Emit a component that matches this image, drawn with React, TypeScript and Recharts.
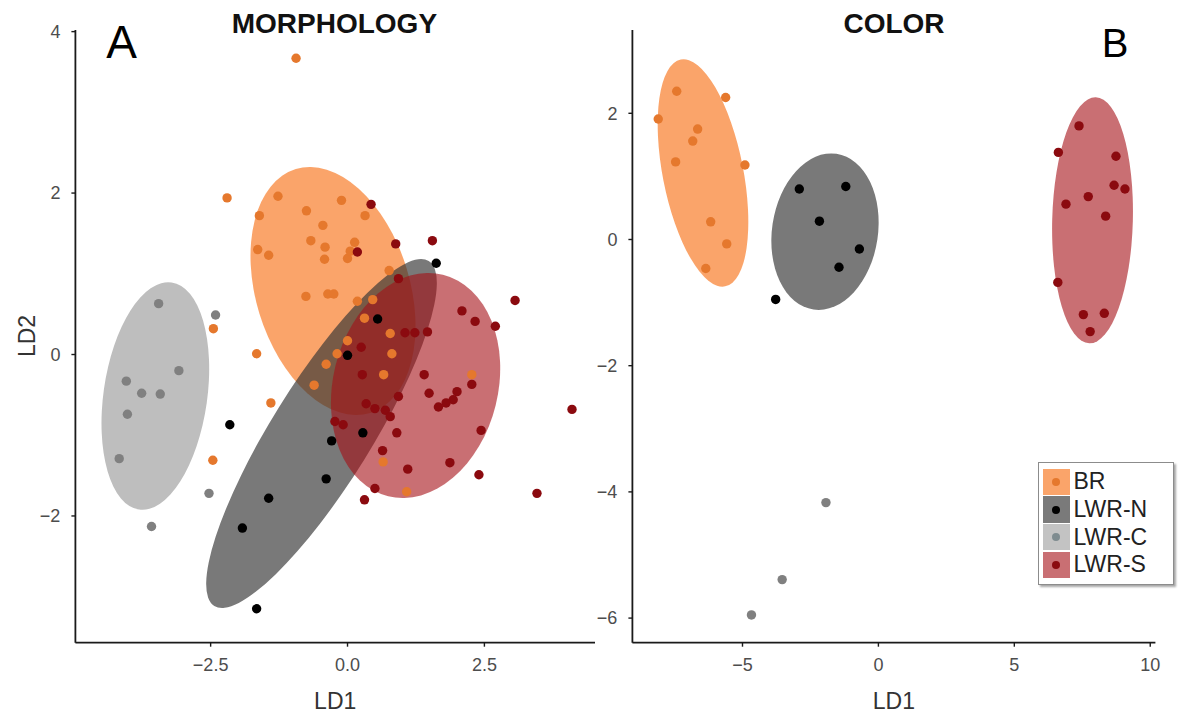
import React from 'react';
import { ScatterChart, Scatter, XAxis, YAxis } from 'recharts';

type Pt = { x: number; y: number };

// ---------- groups & styling ----------
const groups = ['BR', 'LWR-N', 'LWR-C', 'LWR-S'];
const pointColors = ['#e5782d', '#000000', '#808080', '#8b0a0f'];
const ellipseColors = ['#f7731a', '#333333', '#888888', '#a50f15'];
const ellipseOpacity = [0.65, 0.66, 0.55, 0.6];
const legendKeyColors = ['#faa46a', '#7a7a7a', '#c3c3c3', '#c96f73'];
const legendDotColors = ['#e5782d', '#000000', '#7f8c90', '#8b0a0f'];

// ---------- panel A: MORPHOLOGY ----------
const morphXDomain = [-4.97, 4.52];
const morphYDomain = [-3.57, 4.02];
const morphXTicks = [-2.5, 0, 2.5];
const morphYTicks = [-2, 0, 2, 4];

const morphBR: Pt[] = [
  { x: -0.94, y: 3.67 }, { x: -2.2, y: 1.94 }, { x: -1.27, y: 1.96 }, { x: -0.11, y: 1.91 },
  { x: -1.61, y: 1.72 }, { x: -0.75, y: 1.78 }, { x: 0.32, y: 1.72 }, { x: -0.45, y: 1.6 },
  { x: -0.67, y: 1.41 }, { x: -0.41, y: 1.33 }, { x: 0.13, y: 1.39 }, { x: -1.64, y: 1.3 },
  { x: -1.44, y: 1.23 }, { x: -0.42, y: 1.18 }, { x: 0.0, y: 1.19 }, { x: 0.05, y: 1.28 },
  { x: -0.76, y: 0.72 }, { x: -0.36, y: 0.75 }, { x: -0.25, y: 0.75 }, { x: -1.66, y: 0.01 },
  { x: -1.4, y: -0.6 }, { x: 0.76, y: 1.04 }, { x: 0.18, y: 0.66 }, { x: 0.46, y: 0.68 },
  { x: 0.31, y: 0.45 }, { x: 0.78, y: 0.26 }, { x: 0.0, y: 0.17 }, { x: -0.19, y: 0.01 },
  { x: 0.81, y: 0.01 }, { x: -0.39, y: -0.12 }, { x: 0.66, y: -0.25 }, { x: -0.61, y: -0.38 },
  { x: 2.27, y: -0.25 }, { x: 1.08, y: -1.7 }, { x: 0.65, y: -1.33 }, { x: -2.45, y: 0.32 },
  { x: -2.46, y: -1.31 },
];
const morphLWRN: Pt[] = [
  { x: 0.55, y: 0.44 }, { x: 1.62, y: 1.13 }, { x: 0.0, y: -0.01 }, { x: -2.15, y: -0.87 },
  { x: -1.44, y: -1.78 }, { x: -1.92, y: -2.15 }, { x: -0.29, y: -1.07 }, { x: -0.39, y: -1.54 },
  { x: 0.28, y: -0.97 }, { x: -1.66, y: -3.15 },
];
const morphLWRC: Pt[] = [
  { x: -3.45, y: 0.63 }, { x: -2.41, y: 0.49 }, { x: -3.08, y: -0.2 }, { x: -4.04, y: -0.33 },
  { x: -3.76, y: -0.48 }, { x: -3.42, y: -0.49 }, { x: -4.02, y: -0.74 }, { x: -4.17, y: -1.29 },
  { x: -2.53, y: -1.72 }, { x: -3.58, y: -2.13 },
];
const morphLWRS: Pt[] = [
  { x: 0.43, y: 1.86 }, { x: 0.88, y: 1.37 }, { x: 1.55, y: 1.41 }, { x: 0.18, y: 1.27 },
  { x: 0.93, y: 0.94 }, { x: 2.09, y: 0.54 }, { x: 2.33, y: 0.41 }, { x: 2.7, y: 0.35 },
  { x: 3.06, y: 0.67 }, { x: 1.05, y: 0.27 }, { x: 1.23, y: 0.27 }, { x: 1.46, y: 0.28 },
  { x: 0.25, y: 0.09 }, { x: 0.27, y: -0.25 }, { x: 1.4, y: -0.25 }, { x: 1.49, y: -0.48 },
  { x: 0.93, y: -0.52 }, { x: 0.34, y: -0.61 }, { x: 0.5, y: -0.67 }, { x: 0.69, y: -0.69 },
  { x: 0.78, y: -0.77 }, { x: 2.0, y: -0.46 }, { x: 1.93, y: -0.56 }, { x: 1.8, y: -0.6 },
  { x: 1.66, y: -0.65 }, { x: 2.27, y: -0.37 }, { x: -0.23, y: -0.83 }, { x: -0.08, y: -0.87 },
  { x: 0.9, y: -0.97 }, { x: 2.44, y: -0.94 }, { x: 0.64, y: -1.19 }, { x: 1.1, y: -1.42 },
  { x: 1.87, y: -1.34 }, { x: 2.4, y: -1.49 }, { x: 0.5, y: -1.66 }, { x: 0.31, y: -1.8 },
  { x: 3.46, y: -1.72 }, { x: 4.1, y: -0.68 },
];
// ellipse = [centre, end of first semi-axis, end of second semi-axis]
const morphEllipseBR: Pt[] = [{ x: -0.265, y: 0.787 }, { x: 0.415, y: -0.724 }, { x: -1.61, y: 0.508 }];
const morphEllipseLWRN: Pt[] = [{ x: -0.475, y: -0.979 }, { x: 1.483, y: 1.157 }, { x: 0.302, y: -1.306 }];
const morphEllipseLWRC: Pt[] = [{ x: -3.51, y: -0.514 }, { x: -3.806, y: -1.921 }, { x: -4.448, y: -0.424 }];
const morphEllipseLWRS: Pt[] = [{ x: 1.243, y: -0.384 }, { x: 1.742, y: 0.989 }, { x: 2.706, y: -0.628 }];

// ---------- panel B: COLOR ----------
const colorXDomain = [-9.05, 10.19];
const colorYDomain = [-6.39, 3.32];
const colorXTicks = [-5, 0, 5, 10];
const colorYTicks = [-6, -4, -2, 0, 2];

const colorBR: Pt[] = [
  { x: -7.42, y: 2.35 }, { x: -5.62, y: 2.25 }, { x: -8.1, y: 1.91 }, { x: -6.65, y: 1.75 },
  { x: -6.83, y: 1.56 }, { x: -7.46, y: 1.23 }, { x: -4.91, y: 1.18 }, { x: -6.17, y: 0.28 },
  { x: -5.58, y: -0.07 }, { x: -6.35, y: -0.46 },
];
const colorLWRN: Pt[] = [
  { x: -2.91, y: 0.8 }, { x: -1.2, y: 0.84 }, { x: -2.17, y: 0.29 }, { x: -0.7, y: -0.15 },
  { x: -1.45, y: -0.44 }, { x: -3.78, y: -0.95 },
];
const colorLWRC: Pt[] = [{ x: -1.93, y: -4.17 }, { x: -3.54, y: -5.39 }, { x: -4.67, y: -5.95 }];
const colorLWRS: Pt[] = [
  { x: 7.38, y: 1.8 }, { x: 6.62, y: 1.38 }, { x: 8.74, y: 1.32 }, { x: 8.67, y: 0.86 },
  { x: 9.07, y: 0.8 }, { x: 7.72, y: 0.68 }, { x: 6.9, y: 0.56 }, { x: 8.36, y: 0.37 },
  { x: 6.6, y: -0.68 }, { x: 7.54, y: -1.19 }, { x: 8.31, y: -1.17 }, { x: 7.79, y: -1.46 },
];
const colorEllipseBR: Pt[] = [{ x: -6.453, y: 1.054 }, { x: -5.637, y: -0.743 }, { x: -7.907, y: 0.932 }];
const colorEllipseLWRN: Pt[] = [{ x: -1.965, y: 0.124 }, { x: -1.542, y: 1.358 }, { x: -0.037, y: 0.002 }];
const colorEllipseLWRS: Pt[] = [{ x: 7.877, y: 0.304 }, { x: 7.995, y: 2.254 }, { x: 9.36, y: 0.288 }];

// ---------- helpers ----------
const minus = '\u2212';
const fmtDec = (v: number) => (v < 0 ? minus : '') + Math.abs(v).toFixed(1);
const fmtInt = (v: number) => (v < 0 ? minus : '') + String(Math.abs(v));

const NoShape = () => <g />;

const makeEllipse = (fill: string, opacity: number) => (props: any) => {
  const pts = (props && props.points) || [];
  if (pts.length < 3) return <g />;
  const [c, p, q] = pts;
  return (
    <ellipse
      cx={0}
      cy={0}
      rx={1}
      ry={1}
      fill={fill}
      fillOpacity={opacity}
      stroke="none"
      transform={`matrix(${p.x - c.x} ${p.y - c.y} ${q.x - c.x} ${q.y - c.y} ${c.x} ${c.y})`}
    />
  );
};

const makeDot = (color: string) => (props: any) => (
  <circle cx={props.cx} cy={props.cy} r={4.7} fill={color} />
);

const axisStroke = { stroke: '#1a1a1a', strokeWidth: 1.8 };
const tickStroke = { stroke: '#1a1a1a', strokeWidth: 1.4 };
const tickStyle = { fontSize: 18, fill: '#4d4d4d' };

type PanelProps = {
  width: number;
  margin: { top: number; right: number; bottom: number; left: number };
  xDomain: number[];
  yDomain: number[];
  xTicks: number[];
  yTicks: number[];
  xFmt: (v: number) => string;
  ellipses: { data: Pt[]; g: number }[];
  sets: { data: Pt[]; g: number }[];
};

function Panel({ width, margin, xDomain, yDomain, xTicks, yTicks, xFmt, ellipses, sets }: PanelProps) {
  return (
    <ScatterChart width={width} height={719} margin={margin}>
      <XAxis
        type="number"
        dataKey="x"
        domain={xDomain}
        allowDataOverflow
        ticks={xTicks}
        interval={0}
        tickFormatter={xFmt}
        tickSize={4}
        tickMargin={12}
        height={50}
        axisLine={axisStroke}
        tickLine={tickStroke}
        tick={tickStyle}
        label={{ value: 'LD1', position: 'bottom', offset: 0, fontSize: 23, fill: '#333' }}
      />
      <YAxis
        type="number"
        dataKey="y"
        domain={yDomain}
        allowDataOverflow
        ticks={yTicks}
        interval={0}
        tickFormatter={fmtInt}
        tickSize={4}
        tickMargin={11}
        width={60}
        axisLine={axisStroke}
        tickLine={tickStroke}
        tick={tickStyle}
      />
      {ellipses.map((e, i) => (
        <Scatter
          key={'e' + i}
          data={e.data}
          shape={NoShape}
          line={makeEllipse(ellipseColors[e.g], ellipseOpacity[e.g])}
          lineType="joint"
          isAnimationActive={false}
          legendType="none"
        />
      ))}
      {sets.map((s, i) => (
        <Scatter
          key={'s' + i}
          name={groups[s.g]}
          data={s.data}
          shape={makeDot(pointColors[s.g])}
          fill={pointColors[s.g]}
          isAnimationActive={false}
        />
      ))}
    </ScatterChart>
  );
}

export default function App() {
  return (
    <div
      style={{
        position: 'absolute',
        left: 0,
        top: 0,
        width: 1179,
        height: 719,
        background: '#fff',
        overflow: 'hidden',
        fontFamily: '"Liberation Sans", Arial, sans-serif',
      }}
    >
      <div style={{ position: 'absolute', left: 0, top: 0 }}>
        <Panel
          width={600}
          margin={{ top: 30, right: 5, bottom: 26.3, left: 15.4 }}
          xDomain={morphXDomain}
          yDomain={morphYDomain}
          xTicks={morphXTicks}
          yTicks={morphYTicks}
          xFmt={fmtDec}
          ellipses={[
            { data: morphEllipseBR, g: 0 },
            { data: morphEllipseLWRN, g: 1 },
            { data: morphEllipseLWRC, g: 2 },
            { data: morphEllipseLWRS, g: 3 },
          ]}
          sets={[
            { data: morphBR, g: 0 },
            { data: morphLWRN, g: 1 },
            { data: morphLWRC, g: 2 },
            { data: morphLWRS, g: 3 },
          ]}
        />
      </div>
      <div style={{ position: 'absolute', left: 560, top: 0 }}>
        <Panel
          width={619}
          margin={{ top: 30, right: 23.6, bottom: 26.3, left: 12.4 }}
          xDomain={colorXDomain}
          yDomain={colorYDomain}
          xTicks={colorXTicks}
          yTicks={colorYTicks}
          xFmt={fmtInt}
          ellipses={[
            { data: colorEllipseBR, g: 0 },
            { data: colorEllipseLWRN, g: 1 },
            { data: colorEllipseLWRS, g: 3 },
          ]}
          sets={[
            { data: colorBR, g: 0 },
            { data: colorLWRN, g: 1 },
            { data: colorLWRC, g: 2 },
            { data: colorLWRS, g: 3 },
          ]}
        />
      </div>
      <svg
        width={1179}
        height={719}
        style={{ position: 'absolute', left: 0, top: 0, pointerEvents: 'none' }}
      >
        <text x={334.4} y={33.3} textAnchor="middle" fontSize={28} fontWeight="bold" fill="#111">
          MORPHOLOGY
        </text>
        <text x={894} y={33.3} textAnchor="middle" fontSize={28} fontWeight="bold" fill="#111">
          COLOR
        </text>
        <text x={121.5} y={58} textAnchor="middle" fontSize={46} fill="#000">
          A
        </text>
        <text x={1115} y={57} textAnchor="middle" fontSize={40} fill="#000">
          B
        </text>
        <text x={0} y={0} transform="translate(35,336) rotate(-90)" textAnchor="middle" fontSize={23} fill="#333">
          LD2
        </text>
      </svg>
      <div
        style={{
          position: 'absolute',
          left: 1038,
          top: 462,
          width: 136,
          height: 123,
          boxSizing: 'border-box',
          border: '1.5px solid #8c8c8c',
          boxShadow: '2px 2px 2px rgba(0,0,0,0.35)',
          background: '#fff',
          padding: '5px 0 0 3.5px',
        }}
      >
        {groups.map((g, i) => (
          <div key={g} style={{ display: 'flex', alignItems: 'center', height: 27.7 }}>
            <div
              style={{
                width: 27,
                height: 26.5,
                background: legendKeyColors[i],
                display: 'flex',
                alignItems: 'center',
                justifyContent: 'center',
                flexShrink: 0,
              }}
            >
              <div style={{ width: 8, height: 8, borderRadius: 4, background: legendDotColors[i] }} />
            </div>
            <span style={{ marginLeft: 4, fontSize: 23, color: '#222', lineHeight: '27px', whiteSpace: 'nowrap' }}>
              {g}
            </span>
          </div>
        ))}
      </div>
    </div>
  );
}
